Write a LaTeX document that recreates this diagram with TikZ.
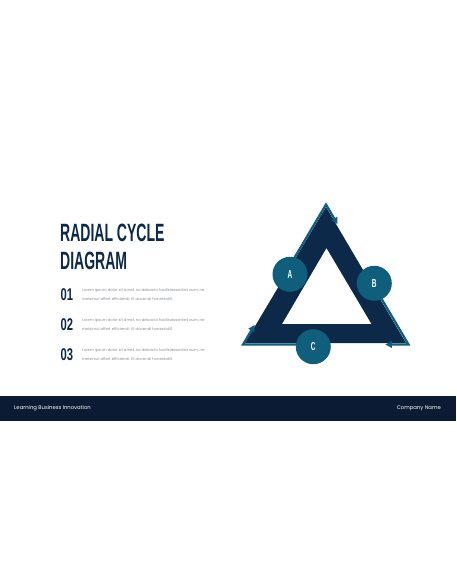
\documentclass[tikz,border=0pt]{standalone}
\usepackage{fontspec}
\setmainfont{Poppins}
\newfontfamily\bebas[FakeStretch=0.56]{Liberation Sans}
\newfontfamily\bebasnum[FakeStretch=0.66]{Liberation Sans}
\usetikzlibrary{positioning,calc,arrows.meta}
\definecolor{navy}{HTML}{0D2949}
\definecolor{cycleteal}{HTML}{0F5E7B}
\definecolor{footerblue}{HTML}{0A1B33}
\definecolor{bodygray}{HTML}{8A8F96}

\begin{document}
\begin{tikzpicture}[x=1pt,y=-1pt,
                titletext/.style={font=\bebas\bfseries\fontsize{25}{25}\selectfont, text=navy, inner sep=0, anchor=base west},
                numtext/.style={font=\bebasnum\bfseries\fontsize{17}{17}\selectfont, text=navy, inner sep=0, anchor=base west},
                bodytext/.style={font=\fontsize{3.8}{8.5}\selectfont, text=bodygray, inner sep=0, anchor=west, align=left},
                stage/.style={circle, fill=cycleteal, text=white, minimum size=35pt, inner sep=0, font=\bebas\bfseries\fontsize{11.6}{12}\selectfont},
                cyclearrow/.style={draw=cycleteal, line width=2.2pt, line join=miter, -{Triangle[length=6.5pt,width=6.5pt]}},
                footertext/.style={font=\fontsize{5.3}{5.5}\selectfont, text=white, inner sep=0}
                ]
                \useasboundingbox[fill=white] (0,0) rectangle (456,586);
                % Title
                \node[titletext] (title1) at (60,241) {RADIAL CYCLE};
                \node[titletext] (title2) at ([yshift=-28pt]title1.base west) {DIAGRAM};
                % Items
                \foreach \num/\ypos in {01/300,02/330,03/360} {
                  \node[numtext] (num\num) at (60.5,\ypos) {\num};
                  \node[bodytext] (text\num) at (82,\ypos-5.5) {Lorem ipsum dolor sit amet, no debacto facilisiassentiet eum, ne\\meisimul affert efficiendi. Et docendi honestatiS.};
                }
                % Triangle ring
                \coordinate (top) at (326,207);
                \coordinate (bl) at (245,343);
                \coordinate (br) at (406,343);
                \coordinate (itop) at (326.5,248);
                \coordinate (ibl) at (282,324);
                \coordinate (ibr) at (371.5,324);
                \fill[navy, even odd rule] (top) -- (br) -- (bl) -- cycle (itop) -- (ibr) -- (ibl) -- cycle;
                % Cycle arrows
                \coordinate (ttop) at (326,204.5);
                \coordinate (tbl) at (243,344.5);
                \coordinate (tbr) at (408.5,344.5);
                \draw[cyclearrow] ($(tbl)!0.5!(ttop)$) -- (ttop) -- ($(ttop)!0.14!(tbr)$);
                \draw[cyclearrow] ($(ttop)!0.56!(tbr)$) -- (tbr) -- ($(tbr)!0.14!(tbl)$);
                \draw[cyclearrow] ($(tbr)!0.57!(tbl)$) -- (tbl) -- ($(tbl)!0.14!(ttop)$);
                % Stages
                \node[stage] (A) at (290,274.3) {A};
                \node[stage] (B) at (374.3,283.3) {B};
                \node[stage] (C) at (313.3,346.7) {C};
                % Footer
                \fill[footerblue] (0,396) rectangle (456,421);
                \node[footertext, anchor=west] (slogan) at (14,408.5) {Learning Business Innovation};
                \node[footertext, anchor=east] (company) at (441,408.5) {Company Name};
              \end{tikzpicture}
\end{document}
